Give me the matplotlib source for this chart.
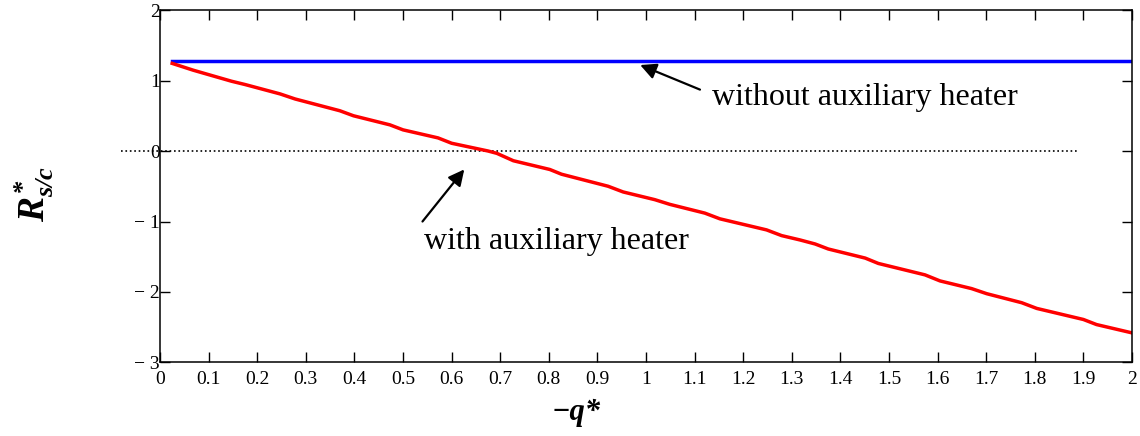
import matplotlib.pyplot as plt
from matplotlib.ticker import FixedLocator, FixedFormatter

plt.rcParams['font.family'] = ['Liberation Serif', 'DejaVu Serif']
plt.rcParams['mathtext.fontset'] = 'custom'
plt.rcParams['mathtext.rm'] = 'Liberation Serif:bold:italic'
plt.rcParams['mathtext.it'] = 'Liberation Serif:bold:italic'
plt.rcParams['mathtext.bf'] = 'Liberation Serif:bold:italic'

# Données
q_avec = [0.025, 0.068, 0.147, 0.175, 0.247, 0.278, 0.370, 0.398, 0.473, 0.500,
          0.572, 0.600, 0.675, 0.693, 0.727, 0.802, 0.826, 0.922, 0.953, 1.018,
          1.049, 1.121, 1.152, 1.248, 1.279, 1.317, 1.348, 1.375, 1.451, 1.478,
          1.574, 1.605, 1.670, 1.701, 1.773, 1.804, 1.900, 1.927, 2.000]
R_avec = [1.243, 1.147, 0.990, 0.943, 0.810, 0.738, 0.571, 0.500, 0.371, 0.300,
          0.186, 0.110, 0.000, -0.033, -0.138, -0.262, -0.329, -0.500, -0.581, -0.690,
          -0.757, -0.881, -0.962, -1.119, -1.200, -1.262, -1.319, -1.390, -1.519, -1.595,
          -1.757, -1.843, -1.952, -2.024, -2.152, -2.233, -2.390, -2.462, -2.580]
q_sans = [0.025, 2.0]
R_sans = [1.28, 1.28]
q_zero = [-0.08, 1.89]
R_zero = [0.0, 0.0]

xticks = [0, 0.1, 0.2, 0.3, 0.4, 0.5, 0.6, 0.7, 0.8, 0.9, 1, 1.1, 1.2, 1.3, 1.4,
          1.5, 1.6, 1.7, 1.8, 1.9, 2]
xlabels = ['0', '0.1', '0.2', '0.3', '0.4', '0.5', '0.6', '0.7', '0.8', '0.9', '1',
           '1.1', '1.2', '1.3', '1.4', '1.5', '1.6', '1.7', '1.8', '1.9', '2']
yticks = [-3, -2, -1, 0, 1, 2]
ylabels = ['\u2212 3', '\u2212 2', '\u2212 1', '0', '1', '2']

fig = plt.figure(figsize=(11.4, 4.36), dpi=100)
ax = fig.add_axes([0.1404, 0.1686, 0.8526, 0.8084])

ax.plot(q_zero, R_zero, ':', color='black', lw=1.2, clip_on=False)
ax.plot(q_sans, R_sans, '-', color='#0000ff', lw=2.5)
ax.plot(q_avec, R_avec, '-', color='#ff0000', lw=2.5)

ax.set_xlim(0, 2)
ax.set_ylim(-3, 2)
ax.xaxis.set_major_locator(FixedLocator(xticks))
ax.xaxis.set_major_formatter(FixedFormatter(xlabels))
ax.yaxis.set_major_locator(FixedLocator(yticks))
ax.yaxis.set_major_formatter(FixedFormatter(ylabels))
ax.tick_params(direction='in', length=7, width=1, labelsize=14,
               top=True, right=True)
ax.tick_params(axis='y', pad=0)
ax.tick_params(axis='x', pad=6)
for sp in ax.spines.values():
    sp.set_linewidth(1.1)

fleche = dict(arrowstyle='-|>', color='black', lw=1.6,
              mutation_scale=24, shrinkA=0, shrinkB=0)
ax.annotate('', xy=(0.988, 1.22), xytext=(1.111, 0.871), arrowprops=fleche)
ax.annotate('', xy=(0.626, -0.261), xytext=(0.54, -1.0), arrowprops=fleche)
ax.text(1.136, 0.76, 'without auxiliary heater', fontsize=23,
        va='center', ha='left')
ax.text(0.543, -1.29, 'with auxiliary heater', fontsize=23,
        va='center', ha='left')

fig.text(0.03, 0.555, r'$R^{*}_{s/c}$', rotation=90, fontsize=27,
         ha='center', va='center')
fig.text(0.505, 0.055, '\u2212q*', fontsize=22, fontweight='bold',
         style='italic', ha='center', va='center')

plt.savefig('out.png', dpi=100)
